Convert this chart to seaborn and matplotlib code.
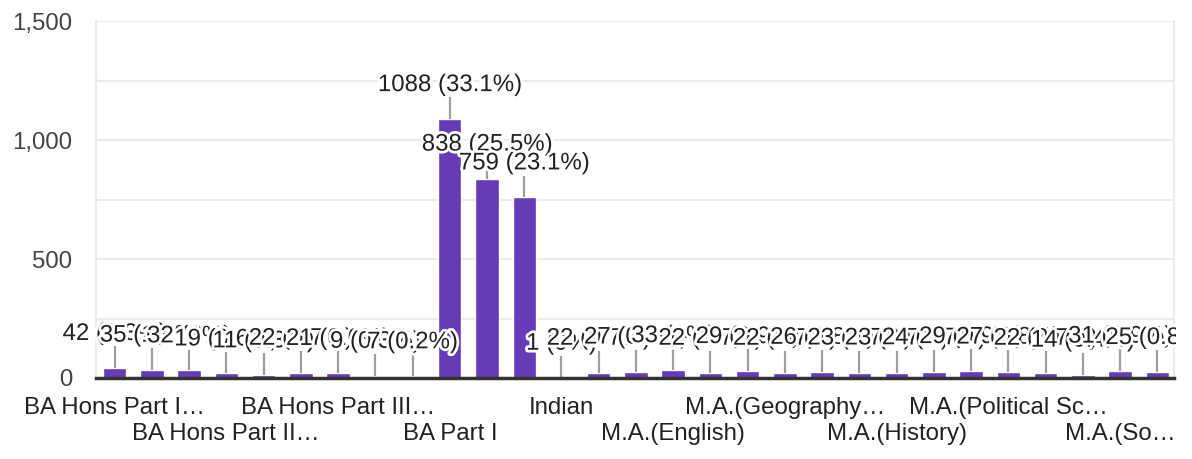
import matplotlib
matplotlib.use('Agg')
import matplotlib.pyplot as plt
import matplotlib.patheffects as pe
from matplotlib.patches import Rectangle
import seaborn as sns

# answers (full names) and counts, in chart order
categories = [
    'BA Hons Part I (English)', 'BA Hons Part I (Geography)', 'BA Hons Part I (History)',
    'BA Hons Part II (English)', 'BA Hons Part II (Geography)', 'BA Hons Part II (History)',
    'BA Hons Part III (English)', 'BA Hons Part III (Geography)', 'BA Hons Part III (History)',
    'BA Part I', 'BA Part II', 'BA Part III',
    'Indian', 'M.A.(Economics)', 'M.A.(Education)',
    'M.A.(English)', 'M.A.(English) Part II', 'M.A.(Geography)',
    'M.A.(Geography) Part II', 'M.A.(Hindi)', 'M.A.(Hindi) Part II',
    'M.A.(History)', 'M.A.(History) Part II', 'M.A.(Philosophy)',
    'M.A.(Political Science)', 'M.A.(Political Science) Part II', 'M.A.(Psychology)',
    'M.A.(Sociology)', 'M.A.(Sociology) Part II',
]
counts = [42, 35, 32, 19, 11, 22, 21, 9, 7,
          1088, 838, 759,
          1, 22, 27, 33, 22, 29, 22, 26, 23, 23, 24, 29, 27, 22, 14, 31, 25]

# the axis only shows every third answer, truncated, on two alternating rows
tick_labels = ['BA Hons Part I…', 'BA Hons Part II…', 'BA Hons Part III…', 'BA Part I',
               'Indian', 'M.A.(English)', 'M.A.(Geography…', 'M.A.(History)',
               'M.A.(Political Sc…', 'M.A.(So…']
y_ticks = [0, 250, 500, 750, 1000, 1250, 1500]

total = sum(counts)


def pct(v):
    p = round(v / total * 100, 1)
    s = ('%.1f' % p).rstrip('0').rstrip('.')
    return '%d (%s%%)' % (v, s)


sns.set_theme(style='white')
plt.rcParams['font.family'] = ['Liberation Sans', 'DejaVu Sans']
fs = 17.3

fig = plt.figure(figsize=(11.92, 4.59), dpi=100)
ax = fig.add_axes([0.0805, 0.1765, 0.9045, 0.7775])

sns.barplot(x=categories, y=counts, color='#673ab7', saturation=1, width=0.63, ax=ax, zorder=2)

ax.set_ylim(0, 1500)
ax.set_xlim(-0.5, 28.45)
ax.set_yticks(y_ticks)
ax.set_yticklabels(['{:,}'.format(t) if t % 500 == 0 else '' for t in y_ticks])
ax.yaxis.grid(True, color='#ebebeb', lw=1.5, zorder=0)
ax.tick_params(axis='y', length=0, pad=17, labelsize=fs, labelcolor='#444444')

pos = list(range(0, len(categories), 3))
ax.set_xticks(pos)
ax.set_xticklabels([lab if k % 2 == 0 else '\n' + lab for k, lab in enumerate(tick_labels)],
                   linespacing=1.2)
ax.tick_params(axis='x', length=0, pad=14, labelsize=fs, labelcolor='#222222')
ax.set_xlabel('')

for s in ['left', 'right', 'top']:
    ax.spines[s].set_color('#ebebeb')
    ax.spines[s].set_linewidth(1.5)
ax.spines['top'].set_visible(False)
ax.spines['bottom'].set_color('#333333')
ax.spines['bottom'].set_linewidth(2.5)
ax.spines['bottom'].set_zorder(5)

# value labels with leader lines; the chart area cuts them off on the right only
clip = Rectangle((0, 0), 1176 / 1192, 1, transform=fig.transFigure, visible=False)
fig.add_artist(clip)
for i, v in enumerate(counts):
    ax.vlines(i, v, v + 92, color='#9e9e9e', lw=1.6, zorder=3)
for i, v in enumerate(counts):
    t = ax.text(i, v + 143, pct(v), ha='center', va='center', fontsize=fs, color='#222222',
                zorder=4, clip_on=True,
                path_effects=[pe.withStroke(linewidth=4, foreground='white')])
    t.set_clip_path(clip)

fig.savefig('out.png', dpi=100, facecolor='white')
